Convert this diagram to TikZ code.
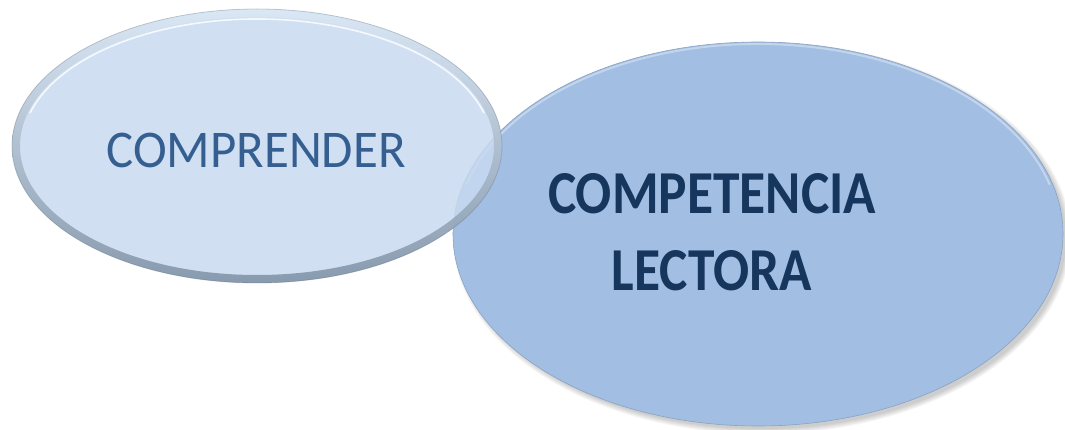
\documentclass[tikz,border=0pt]{standalone}
\usepackage{fontspec}
\setmainfont{Carlito}
\usetikzlibrary{shapes.geometric}
\definecolor{leftfill}{HTML}{C8DAF0}
\definecolor{rightfill}{HTML}{A2BFE3}
\definecolor{rimdark}{HTML}{7C8FA3}
\definecolor{rimlight}{HTML}{DCE8F5}
\definecolor{txtmid}{HTML}{365F91}
\definecolor{txtdark}{HTML}{17365D}
\tikzset{
  bubble/.style={ellipse, inner sep=0pt},
  lbl/.style={align=center, inner sep=0pt}
}
\begin{document}
\begin{tikzpicture}[x=1pt,y=-1pt]
\useasboundingbox (0,0) rectangle (1065,430);
% soft shadow of the right ellipse
\foreach \i in {1,...,6}{
  \fill[black, opacity=0.035] (762,238) ellipse ({303+\i} and {190+\i});
}
% right ellipse
\node[bubble, fill=rightfill, draw=rightfill!85!black, line width=0.6pt,
      minimum width=610pt, minimum height=384pt] (lect) at (758,234) {};
\draw[white, opacity=0.35, line width=2pt]
  (758,234) ++(195:302 and 190) arc[start angle=195, end angle=345, x radius=302, y radius=190];
% left ellipse, translucent, with bevelled rim
\node[bubble, fill=leftfill, fill opacity=0.85, minimum width=490pt, minimum height=274pt]
  (comp) at (257,146) {};
\path[even odd rule, top color=rimlight, bottom color=rimdark, opacity=0.85]
  (257,146) ellipse (245 and 137) (257,146) ellipse (237 and 129);
\draw[rimdark!70!black, opacity=0.3, line width=0.8pt] (257,146) ellipse (245 and 137);
\draw[white, opacity=0.8, line width=1.6pt]
  (257,146) ++(195:235 and 127) arc[start angle=195, end angle=345, x radius=235, y radius=127];
% texts
\node[lbl, text=txtmid, font=\fontsize{53}{60}\selectfont] (t1) at (256,150)
  {\scalebox{0.96}[1]{COMPRENDER}};
\node[lbl, text=txtdark, font=\bfseries\fontsize{61}{77}\selectfont] (t2) at (712,232)
  {\scalebox{0.876}[1]{COMPETENCIA}\\\scalebox{0.876}[1]{LECTORA}};
\end{tikzpicture}
\end{document}
